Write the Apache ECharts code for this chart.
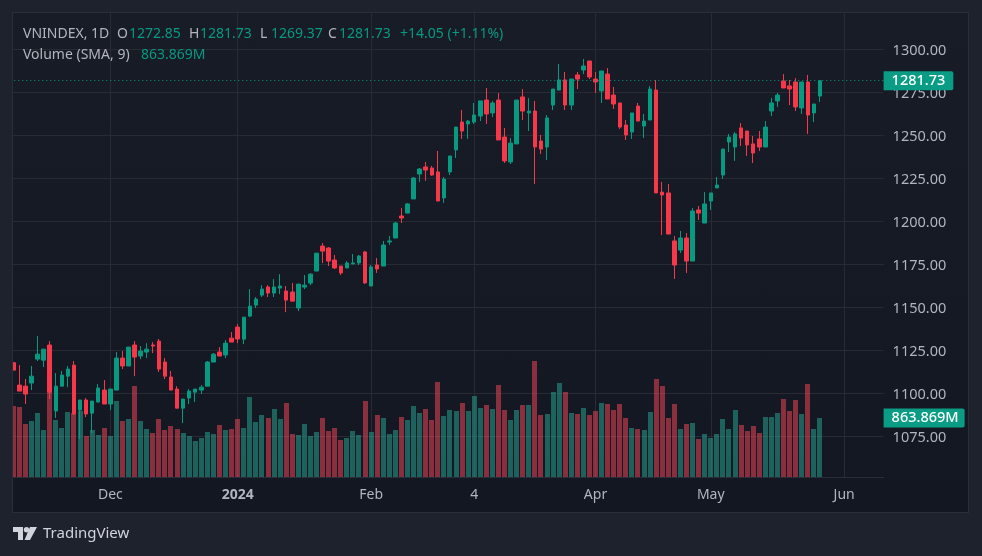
<!DOCTYPE html>
<html>
<head>
<meta charset="utf-8">
<style>
html,body{margin:0;padding:0;width:982px;height:556px;background:#1e222d;overflow:hidden}
#frame{position:absolute;left:12px;top:12px;width:955px;height:499px;border:1px solid #2a2e39;background:linear-gradient(#181c27,#131722)}
#chart{position:absolute;left:0;top:0;width:982px;height:556px}
</style>
<script src="https://cdn.jsdelivr.net/npm/echarts@6/dist/echarts.min.js"></script>
</head>
<body>
<div id="frame"></div>
<div id="chart"></div>
<script>
const opens=[1117.8,1104.8,1104.2,1106.0,1119.9,1119.3,1128.1,1089.7,1104.2,1110.0,
1116.4,1090.3,1096.1,1088.5,1094.9,1101.9,1093.8,1101.9,1120.5,1115.9,
1128.1,1121.7,1124.0,1128.1,1130.4,1118.2,1109.5,1102.5,1091.4,1097.3,
1100.7,1101.9,1104.2,1118.2,1124.0,1122.3,1132.1,1138.5,1131.5,1144.9,
1151.3,1157.1,1161.8,1158.3,1161.2,1159.5,1158.9,1149.6,1161.8,1164.1,
1171.1,1185.6,1184.5,1177.5,1174.0,1172.9,1175.2,1175.8,1182.2,1162.4,
1174.6,1174.0,1188.0,1190.3,1203.1,1204.8,1213.0,1227.5,1231.6,1231.0,
1228.7,1213.6,1228.7,1241.5,1257.7,1256.6,1257.7,1261.2,1270.5,1263.0,
1270.5,1249.0,1234.5,1245.0,1272.3,1263.0,1264.1,1246.7,1243.2,1267.6,
1276.3,1282.2,1267.6,1285.1,1288.0,1293.2,1282.7,1275.8,1285.6,1273.4,
1268.8,1256.0,1251.9,1267.0,1255.4,1258.9,1276.3,1217.0,1216.5,1188.6,
1183.3,1190.3,1176.9,1206.6,1199.0,1211.8,1219.4,1226.9,1246.1,1243.2,
1254.3,1252.5,1245.0,1247.9,1243.2,1264.1,1270.0,1281.6,1278.7,1281.0,
1265.9,1281.0,1263.0,1272.85];
const closes=[1113.5,1101.3,1099.6,1110.0,1122.8,1125.7,1100.7,1104.2,1110.6,1114.1,
1088.0,1096.1,1088.0,1095.5,1103.1,1093.8,1102.5,1120.5,1115.9,1126.9,
1121.1,1124.6,1125.7,1127.5,1114.1,1110.0,1101.9,1091.4,1096.7,1101.3,
1102.5,1103.6,1118.2,1122.8,1121.7,1129.2,1129.8,1131.6,1144.3,1150.7,
1154.8,1160.6,1158.3,1161.8,1162.4,1154.2,1153.6,1163.5,1162.9,1169.3,
1181.5,1182.7,1176.9,1172.9,1170.0,1175.8,1175.8,1179.8,1164.2,1173.5,
1172.3,1186.2,1188.6,1199.0,1201.9,1210.1,1225.2,1230.4,1229.8,1226.9,
1211.8,1224.6,1238.0,1254.8,1252.5,1258.3,1261.8,1270.0,1262.4,1268.8,
1247.3,1235.1,1245.5,1270.5,1264.1,1264.1,1243.2,1242.0,1260.1,1276.9,
1282.2,1267.6,1282.7,1282.7,1290.3,1283.9,1281.0,1287.4,1271.1,1268.2,
1254.8,1250.2,1263.0,1258.3,1258.3,1276.9,1216.5,1215.3,1192.6,1174.6,
1190.3,1176.9,1206.0,1204.8,1210.1,1216.5,1221.1,1242.0,1249.0,1250.8,
1248.4,1244.4,1239.7,1243.2,1254.8,1268.8,1273.4,1277.5,1276.9,1266.5,
1281.0,1261.8,1268.2,1281.73];
const highs=[1117.8,1116.4,1108.3,1115.9,1133.3,1125.7,1130.4,1111.8,1113.0,1115.9,
1118.8,1096.1,1097.3,1095.5,1105.4,1107.7,1102.5,1124.0,1124.6,1126.9,
1130.4,1127.5,1129.2,1129.8,1131.6,1120.5,1113.0,1104.2,1096.7,1102.5,
1102.5,1104.8,1118.8,1123.4,1126.9,1131.0,1135.6,1140.3,1144.3,1160.6,
1156.0,1162.9,1162.9,1166.4,1169.3,1162.4,1164.1,1163.5,1168.8,1169.9,
1181.5,1187.4,1185.0,1180.4,1174.0,1176.9,1181.0,1180.4,1182.8,1174.6,
1178.7,1188.6,1191.5,1199.6,1207.8,1210.7,1225.8,1231.0,1234.5,1232.2,
1240.9,1225.8,1238.0,1254.8,1264.7,1258.9,1268.8,1270.0,1277.5,1270.0,
1274.6,1254.3,1248.4,1270.5,1276.9,1271.7,1270.0,1250.2,1261.8,1276.9,
1291.5,1286.8,1282.7,1286.8,1294.4,1293.2,1286.8,1287.4,1289.1,1278.1,
1268.8,1258.9,1263.0,1268.8,1262.4,1278.7,1282.2,1222.9,1221.7,1191.5,
1194.4,1193.2,1207.7,1208.9,1217.0,1216.5,1225.8,1242.0,1250.8,1251.9,
1257.2,1252.5,1249.6,1252.5,1258.3,1271.7,1274.6,1285.6,1282.2,1283.3,
1281.0,1285.1,1268.2,1281.73];
const lows=[1113.5,1101.3,1093.8,1101.9,1118.8,1115.3,1096.7,1085.6,1104.2,1103.6,
1087.4,1073.4,1086.2,1076.9,1094.9,1093.8,1090.3,1101.9,1114.1,1115.9,
1110.0,1119.9,1120.5,1123.4,1112.4,1108.3,1101.9,1091.4,1082.7,1093.8,
1094.9,1099.6,1104.2,1118.2,1121.7,1120.5,1129.8,1129.2,1128.6,1144.3,
1149.6,1156.0,1156.0,1156.0,1157.7,1147.2,1153.6,1147.8,1160.6,1162.9,
1171.1,1175.7,1174.0,1172.3,1168.8,1172.9,1175.2,1174.6,1163.6,1162.4,
1170.0,1174.0,1186.2,1190.3,1199.0,1204.8,1213.0,1222.9,1223.5,1226.4,
1211.8,1210.7,1226.9,1236.8,1247.9,1247.9,1256.6,1258.3,1256.6,1260.6,
1247.3,1233.9,1233.3,1245.0,1258.9,1252.5,1221.7,1239.1,1235.6,1264.7,
1276.3,1264.7,1264.7,1276.9,1285.6,1282.7,1274.6,1268.8,1271.1,1265.3,
1253.7,1247.3,1247.9,1258.3,1248.4,1258.9,1216.5,1192.0,1192.6,1166.5,
1181.6,1170.0,1176.9,1200.8,1199.0,1206.6,1219.4,1224.6,1240.3,1235.1,
1243.8,1238.0,1233.9,1240.9,1243.2,1261.2,1266.5,1277.5,1267.6,1264.1,
1262.4,1250.8,1257.7,1269.37];
const volumes=[1039,1025,777,821,937,690,1243,835,719,952,
932,966,602,690,617,719,602,1112,821,850,
1331,821,704,646,850,690,748,704,646,602,
529,573,660,631,762,690,704,850,719,1170,
806,908,864,995,850,1083,631,617,777,602,
660,864,675,719,544,573,675,617,1112,660,
908,864,631,690,879,835,1039,937,995,835,
1389,894,981,966,1083,966,1185,1010,1054,995,
1345,981,835,981,1054,1054,1695,908,923,1243,
1374,1243,937,923,1010,908,966,1083,1068,981,
1068,864,719,704,690,952,1433,1331,864,1068,
704,777,792,558,631,573,631,850,704,981,
762,675,748,646,879,879,937,1141,966,1127,
923,1360,704,863.869];
const priceTicks=[1075,1100,1125,1150,1175,1200,1225,1250,1275,1300];
const xTickIndex=[16,37,59,76,96,115,137];
const xTickLabels=['Dec','2024','Feb','4','Apr','May','Jun'];
const slotCount=144;
const lastPrice=1281.73;
const lastVolume=863.869;

const UP='#089981',DOWN='#f7374a',GRID='#282b33',TEXT='#b2b5be',FONT='"Noto Sans"';
const VOL_UP='rgba(38,172,150,0.5)',VOL_DOWN='rgba(255,70,90,0.5)';
const categories=Array.from({length:slotCount},(_,i)=>{const p=xTickIndex.indexOf(i);return p>=0?xTickLabels[p]:'';});
const isTick=i=>xTickIndex.includes(i);
const legendItem=(x,y,text,fill)=>({type:'text',left:x,top:y,z:50,silent:true,style:{text,fill,font:'14px '+FONT}});
const tagLabel=(txt,side)=>({show:true,position:'end',distance:0,formatter:txt,color:'#fff',fontFamily:FONT,fontSize:14.5,fontWeight:500,backgroundColor:'#0a9c84',padding:[3,side,1,8],borderRadius:[0,2,2,0]});

const chart=echarts.init(document.getElementById('chart'),null,{renderer:'canvas',width:982,height:556});
chart.setOption({
  animation:false,
  backgroundColor:'transparent',
  grid:{left:10.27,right:98.4,top:13,bottom:78.7},
  xAxis:{type:'category',data:categories,boundaryGap:true,
    axisLine:{show:true,lineStyle:{color:'#2a2e39'}},
    axisTick:{show:false,alignWithLabel:true,interval:i=>isTick(i)},
    splitLine:{show:true,alignWithLabel:true,interval:i=>isTick(i),lineStyle:{color:GRID,width:1}},
    axisLabel:{interval:i=>isTick(i),margin:11,color:TEXT,fontFamily:FONT,fontSize:14,hideOverlap:false,
      formatter:v=>v==='2024'?'{b|2024}':v,rich:{b:{fontWeight:'bold',color:TEXT,fontFamily:FONT,fontSize:14}}}
  },
  yAxis:[
    {type:'value',position:'right',min:1051.2,max:1321.1,scale:true,
      axisLine:{show:false},axisTick:{show:false,customValues:priceTicks},
      splitLine:{show:true,lineStyle:{color:GRID,width:1}},
      axisLabel:{customValues:priceTicks,margin:9,color:TEXT,fontFamily:FONT,fontSize:14.5,
        formatter:v=>'{p|'+v.toFixed(2)+'}',
        rich:{p:{color:TEXT,fontFamily:FONT,fontSize:14.5,padding:[3,0,0,0]}}}},
    {type:'value',show:false,min:0,max:6765,splitLine:{show:false}}
  ],
  series:[
    {type:'candlestick',name:'VNINDEX',xAxisIndex:0,yAxisIndex:0,barWidth:4,
      data:opens.map((o,i)=>[o,closes[i],lows[i],highs[i]]),
      itemStyle:{color:UP,color0:DOWN,borderColor:UP,borderColor0:DOWN,borderWidth:1},
      markLine:{silent:true,symbol:'none',animation:false,
        lineStyle:{color:UP,type:[1,3],width:1},
        label:tagLabel(lastPrice.toFixed(2),8),
        data:[{yAxis:lastPrice}]}},
    {type:'custom',name:'Volume',xAxisIndex:0,yAxisIndex:1,clip:true,
      encode:{x:0,y:1},
      data:volumes.map((v,i)=>[i,v]),
      renderItem:(params,api)=>{
        const i=api.value(0);
        const top=api.coord([i,api.value(1)]);
        const base=api.coord([i,0]);
        const left=Math.round(top[0]-2.5);
        const y=Math.round(top[1]);
        return {type:'rect',shape:{x:left,y,width:5,height:Math.round(base[1])-y},
          style:{fill:closes[i]>=opens[i]?VOL_UP:VOL_DOWN}};
      },
      markLine:{silent:true,symbol:'none',animation:false,
        lineStyle:{color:'rgba(0,0,0,0)',width:1},
        label:tagLabel(lastVolume.toFixed(3)+'M',6),
        data:[{yAxis:lastVolume}]}}
  ],
  graphic:[
    {type:'rect',z:100,silent:true,shape:{x:0,y:0,width:12,height:556},style:{fill:'#1e222d'}},
    {type:'rect',z:100,silent:true,shape:{x:12,y:12,width:1,height:500},style:{fill:'#2a2e39'}},
    legendItem(23,27,'VNINDEX, 1D',TEXT),
    legendItem(117,27,'O',TEXT),legendItem(129,27,'1272.85',UP),
    legendItem(189,27,'H',TEXT),legendItem(200,27,'1281.73',UP),
    legendItem(260,27,'L',TEXT),legendItem(271,27,'1269.37',UP),
    legendItem(328,27,'C',TEXT),legendItem(339,27,'1281.73',UP),
    legendItem(400,27,'+14.05 (+1.11%)',UP),
    legendItem(23,48,'Volume (SMA, 9)',TEXT),legendItem(141,48,'863.869M',UP),
    {type:'polygon',silent:true,z:50,shape:{points:[[13,527],[23,527],[23,540],[18,540],[18,532],[13,532]]},style:{fill:'#d1d4dc'}},
    {type:'circle',silent:true,z:50,shape:{cx:26.5,cy:529.7,r:2.7},style:{fill:'#d1d4dc'}},
    {type:'polygon',silent:true,z:50,shape:{points:[[30,527],[37,527],[30,540],[24.5,540]]},style:{fill:'#d1d4dc'}},
    {type:'text',silent:true,z:50,left:43,top:526,style:{text:'TradingView',fill:'#d1d4dc',font:'15px '+FONT}}
  ]
});
</script>
</body>
</html>
